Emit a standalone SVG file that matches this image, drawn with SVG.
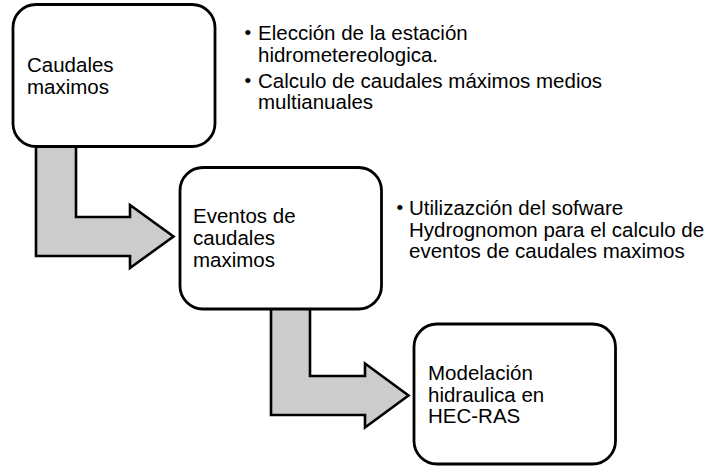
<svg xmlns="http://www.w3.org/2000/svg" width="718" height="466" viewBox="0 0 718 466">
<style>
.box{fill:#fff;stroke:#000;stroke-width:2.8}
.arr{fill:#cccccc;stroke:#000;stroke-width:2.6;stroke-linejoin:miter}
text{font-family:"Liberation Sans",Arial,sans-serif;font-size:20.5px;fill:#000}
.b{font-size:19px}
</style>
<rect width="718" height="466" fill="#fff"/>
<g id="connectors">
<path class="arr" d="M36,146 L76,146 L76,217 L130,217 L130,205 L173.5,236.5 L130,268 L130,256 L36,256 Z"/>
<path class="arr" d="M271,308 L310,308 L310,376 L365,376 L365,363.5 L408.5,395.5 L365,427.5 L365,415 L271,415 Z"/>
</g>
<g id="node1">
<rect class="box" x="13" y="4.5" width="202" height="142" rx="23"/>
<text x="27" y="72">Caudales</text>
<text x="27" y="93.5">maximos</text>
</g>
<g id="node2">
<rect class="box" x="180" y="167.5" width="201.5" height="141.5" rx="23"/>
<text x="193" y="223.3">Eventos de</text>
<text x="193" y="245">caudales</text>
<text x="193" y="266.7">maximos</text>
</g>
<g id="node3">
<rect class="box" x="414" y="324" width="201.5" height="140" rx="23"/>
<text x="428" y="380">Modelación</text>
<text x="428" y="401.7">hidraulica en</text>
<text x="428" y="423.4">HEC-RAS</text>
</g>
<g id="notes1">
<text class="b" x="244.5" y="39">•</text>
<text x="258" y="40">Elección de la estación</text>
<text x="258" y="61.7">hidrometereologica.</text>
<text class="b" x="244.5" y="86.5">•</text>
<text x="258" y="87.5">Calculo de caudales máximos medios</text>
<text x="258" y="109">multianuales</text>
</g>
<g id="notes2">
<text class="b" x="396.5" y="214">•</text>
<text x="409" y="215">Utilizazción del sofware</text>
<text x="409" y="236.7">Hydrognomon para el calculo de</text>
<text x="409" y="258.4">eventos de caudales maximos</text>
</g>
</svg>
